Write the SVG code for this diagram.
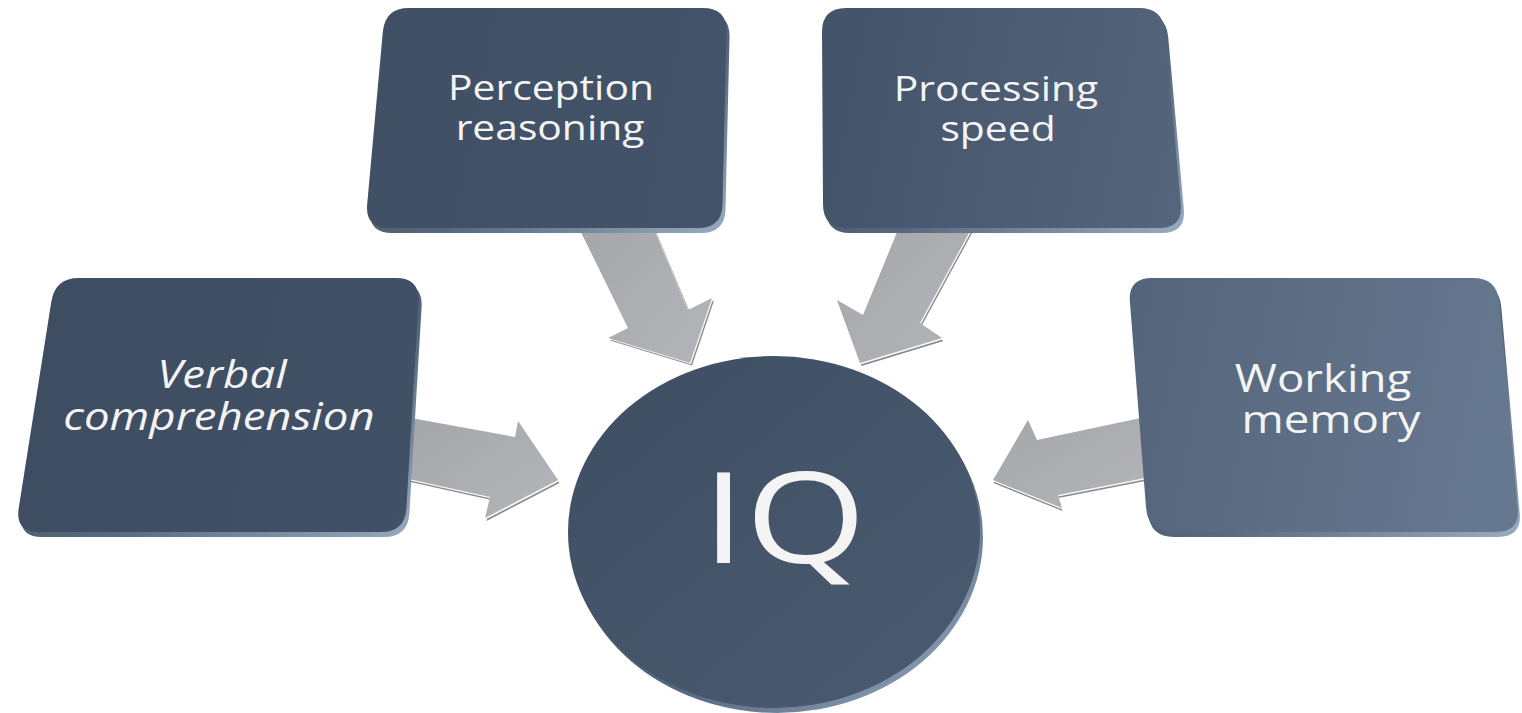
<svg xmlns="http://www.w3.org/2000/svg" width="1522" height="713" viewBox="0 0 1522 713">
  <defs>
    <linearGradient id="faceGrad" gradientUnits="userSpaceOnUse" x1="0" y1="0" x2="1522" y2="300">
      <stop offset="0" stop-color="#3d4c60"/>
      <stop offset="0.55" stop-color="#44546a"/>
      <stop offset="1" stop-color="#66788f"/>
    </linearGradient>
    <linearGradient id="rimGrad" x1="0" y1="0" x2="1" y2="1">
      <stop offset="0" stop-color="#2f3b4b"/>
      <stop offset="0.6" stop-color="#56687f"/>
      <stop offset="1" stop-color="#9aacc2"/>
    </linearGradient>
    <linearGradient id="arrowGrad" x1="0" y1="0" x2="1" y2="1">
      <stop offset="0" stop-color="#a4a6a9"/>
      <stop offset="1" stop-color="#b3b5b8"/>
    </linearGradient>
    <linearGradient id="discGrad" x1="0" y1="0" x2="1" y2="1">
      <stop offset="0" stop-color="#3f4e62"/>
      <stop offset="1" stop-color="#4a5b71"/>
    </linearGradient>
  </defs>
  <style>
    .rim { fill: url(#rimGrad); }
    .face { fill: url(#faceGrad); }
    .disc { fill: url(#discGrad); }
    .a-base { fill: #86888b; }
    .a-hi { fill: #f6f6f6; }
    .a-face { fill: url(#arrowGrad); }
    .label { font-family: "Open Sans", "Noto Sans", "Liberation Sans", sans-serif; fill: #f4f4f4; text-anchor: middle; }
    .top { font-size: 34px; }
    .side { font-size: 38px; }
    .big { font-size: 127px; }
  </style>

  <rect width="1522" height="713" fill="#ffffff"/>

  <!-- block arrows pointing at the centre disc -->
  <g id="connectors">
    <g id="arrow-verbal">
      <polygon class="a-base" transform="translate(1.5,3)" points="400,416 515,437 518,421 558,480 485,518 490,497 400,477"/>
      <polygon class="a-hi" transform="translate(0.8,1.5)" points="400,416 515,437 518,421 558,480 485,518 490,497 400,477"/>
      <polygon class="a-face" points="400,416 515,437 518,421 558,480 485,518 490,497 400,477"/>
    </g>
    <g id="arrow-perception">
      <polygon class="a-base" transform="translate(2,2.5)" points="575,220 650,220 688,310 712,298 690,363 608,338 628,328"/>
      <polygon class="a-hi" transform="translate(1,1.2)" points="575,220 650,220 688,310 712,298 690,363 608,338 628,328"/>
      <polygon class="a-face" points="575,220 650,220 688,310 712,298 690,363 608,338 628,328"/>
    </g>
    <g id="arrow-processing">
      <polygon class="a-base" transform="translate(1.5,3)" points="902,220 976,220 920,323 942,338 860,363 837,300 863,315"/>
      <polygon class="a-hi" transform="translate(0.8,1.5)" points="902,220 976,220 920,323 942,338 860,363 837,300 863,315"/>
      <polygon class="a-face" points="902,220 976,220 920,323 942,338 860,363 837,300 863,315"/>
    </g>
    <g id="arrow-working">
      <polygon class="a-base" transform="translate(0.5,3)" points="1150,416 1037,440 1028,420 993,480 1062,508 1058,495 1150,477"/>
      <polygon class="a-hi" transform="translate(0.3,1.5)" points="1150,416 1037,440 1028,420 993,480 1062,508 1058,495 1150,477"/>
      <polygon class="a-face" points="1150,416 1037,440 1028,420 993,480 1062,508 1058,495 1150,477"/>
    </g>
  </g>

  <g id="node-verbal">
    <path class="rim" transform="translate(3,5)" d="M 79,278 L 396,278 Q 420,278 418.6,302 L 406.4,508 Q 405,532 381,532 L 39,532 Q 15,532 18.7,508.3 L 51.3,301.7 Q 55,278 79,278 Z"/>
    <path class="face" d="M 79,278 L 396,278 Q 420,278 418.6,302 L 406.4,508 Q 405,532 381,532 L 39,532 Q 15,532 18.7,508.3 L 51.3,301.7 Q 55,278 79,278 Z"/>
    <g transform="translate(222,388) scale(1.2,1)">
      <text class="label side" font-style="italic" x="0" y="0">Verbal</text>
    </g>
    <g transform="translate(219,430) scale(1.2,1)">
      <text class="label side" font-style="italic" x="0" y="0">comprehension</text>
    </g>
  </g>

  <g id="node-perception">
    <path class="rim" transform="translate(3,5)" d="M 409,8 L 703,8 Q 727,8 726.5,32 L 722.5,204 Q 722,228 698,228 L 389,228 Q 365,228 367.2,204.1 L 382.8,31.9 Q 385,8 409,8 Z"/>
    <path class="face" d="M 409,8 L 703,8 Q 727,8 726.5,32 L 722.5,204 Q 722,228 698,228 L 389,228 Q 365,228 367.2,204.1 L 382.8,31.9 Q 385,8 409,8 Z"/>
    <g transform="translate(551,100) scale(1.2,1)">
      <text class="label top" x="0" y="0">Perception</text>
    </g>
    <g transform="translate(550,140) scale(1.2,1)">
      <text class="label top" x="0" y="0">reasoning</text>
    </g>
  </g>

  <g id="node-processing">
    <path class="rim" transform="translate(3,5)" d="M 846,8 L 1139,8 Q 1163,8 1165.2,31.9 L 1180.8,204.1 Q 1183,228 1159,228 L 847,228 Q 823,228 823,204 L 822,32 Q 822,8 846,8 Z"/>
    <path class="face" d="M 846,8 L 1139,8 Q 1163,8 1165.2,31.9 L 1180.8,204.1 Q 1183,228 1159,228 L 847,228 Q 823,228 823,204 L 822,32 Q 822,8 846,8 Z"/>
    <g transform="translate(996,101) scale(1.2,1)">
      <text class="label top" x="0" y="0">Processing</text>
    </g>
    <g transform="translate(998,141) scale(1.2,1)">
      <text class="label top" x="0" y="0">speed</text>
    </g>
  </g>

  <g id="node-working">
    <path class="rim" transform="translate(2,5)" d="M 1152,278 L 1473,278 Q 1497,278 1499.3,301.9 L 1517.7,508.1 Q 1520,532 1496,532 L 1172,532 Q 1148,532 1146.1,508.1 L 1129.9,301.9 Q 1128,278 1152,278 Z"/>
    <path class="face" d="M 1152,278 L 1473,278 Q 1497,278 1499.3,301.9 L 1517.7,508.1 Q 1520,532 1496,532 L 1172,532 Q 1148,532 1146.1,508.1 L 1129.9,301.9 Q 1128,278 1152,278 Z"/>
    <g transform="translate(1323,392) scale(1.2,1)">
      <text class="label side" x="0" y="0">Working</text>
    </g>
    <g transform="translate(1331,433) scale(1.2,1)">
      <text class="label side" x="0" y="0">memory</text>
    </g>
  </g>

  <g id="node-iq">
    <ellipse class="rim" cx="777" cy="537" rx="206" ry="176"/>
    <ellipse class="disc" cx="774" cy="532" rx="206" ry="176"/>
    <g transform="translate(784,563) scale(1.22,1)">
      <text class="label big" x="0" y="0">IQ</text>
    </g>
  </g>
</svg>
